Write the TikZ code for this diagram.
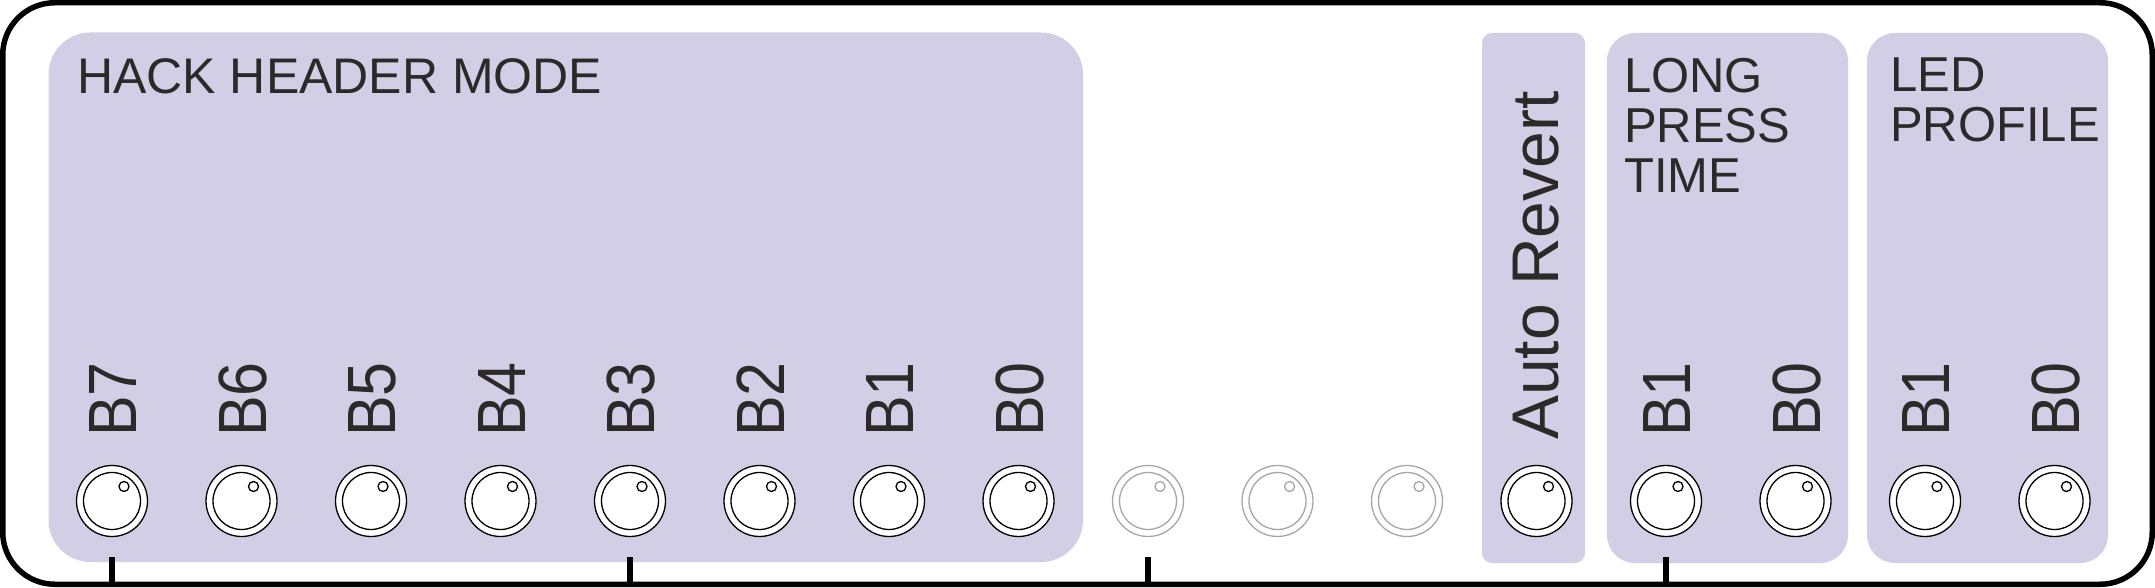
\documentclass[tikz,border=0pt]{standalone}
\usepackage{graphicx}
\usepackage{fontspec}
\setmainfont{Liberation Sans}
\definecolor{panel}{HTML}{D2CEE6}
\definecolor{ink}{HTML}{2B2A29}
\begin{document}
\begin{tikzpicture}[x=1pt,y=1pt,
	title/.style={anchor=north west,inner sep=0,text=ink,align=left,font=\fontsize{49}{50}\selectfont},
	bitlabel/.style={rotate=90,anchor=base west,inner sep=0,text=ink,font=\fontsize{61}{61}\selectfont},
	knob/.style={draw=black,line width=1.3,fill=white},
	deadknob/.style={draw=black!35,line width=1.3,fill=white}]
	\useasboundingbox (0,0) rectangle (2155,587);
	\fill[white] (0,0) rectangle (2155,587);
	% panels
	\fill[panel,rounded corners=42] (48.5,25) rectangle (1083,554.5);
	\fill[panel,rounded corners=10] (1482,24) rectangle (1585,554);
	\fill[panel,rounded corners=28] (1607,24) rectangle (1848,554);
	\fill[panel,rounded corners=28] (1867,24) rectangle (2108,554);
	\node[title,font=\fontsize{50}{50}\selectfont] (hack) at (77,529) {HACK HEADER MODE};
	\node[title] (press) at (1624,529) {LONG\\PRESS\\TIME};
	\node[title] (led) at (1890,529) {LED\\PROFILE};
	% knobs
	\foreach \i in {0,...,15} \coordinate (k\i) at (112+129.5*\i,86);
	\foreach \i in {0,1,2,3,4,5,6,7,11,12,13,14,15} {
		\draw[knob] (k\i) circle (35.5);
		\draw[knob] (k\i) circle (28.5);
		\draw[knob] ([shift={(12,14.5)}]k\i) circle (5);
	}
	\foreach \i in {8,9,10} {
		\draw[deadknob] (k\i) circle (35.5);
		\draw[deadknob] (k\i) circle (28.5);
		\draw[deadknob] ([shift={(12,14.5)}]k\i) circle (5);
	}
	\foreach \i/\b in {0/B7,1/B6,2/B5,3/B4,4/B3,5/B2,6/B1,7/B0,12/B1,13/B0,14/B1,15/B0}
		\node[bitlabel] (b\i) at ([xshift=24.5]k\i |- 0,150) {\scalebox{1}[1.12]{\b}};
	\node[bitlabel,font=\fontsize{66}{66}\selectfont] (revert) at ([xshift=22]k11 |- 0,147) {Auto Revert};
	% ticks and frame
	\foreach \i in {0,4,8,12} \draw[line width=5.5] (k\i |- 0,30) -- (k\i |- 0,2.75);
	\draw[line width=5.5,rounded corners=52] (2.75,2.75) rectangle (2152.25,584.25);
\end{tikzpicture}
\end{document}
